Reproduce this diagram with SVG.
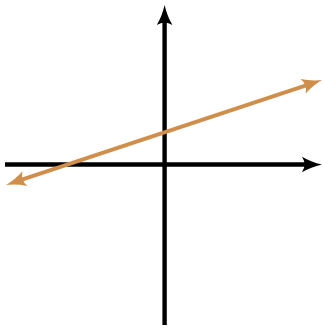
<svg xmlns="http://www.w3.org/2000/svg" width="323" height="329" viewBox="0 0 323 329">
<style>
.axis{stroke:#000;stroke-width:4.4;fill:none}
.fn{stroke:#cf8f4b;stroke-width:4;fill:none}
</style>
<defs>
<marker id="ak" markerUnits="userSpaceOnUse" markerWidth="24" markerHeight="20" viewBox="0 -10 22 20" refX="8" refY="0" orient="auto-start-reverse" overflow="visible">
<path d="M20,0 Q9,-2.5 0,-7.8 Q5,0 0,7.8 Q9,2.5 20,0 Z" fill="#000"/>
</marker>
<marker id="ao" markerUnits="userSpaceOnUse" markerWidth="24" markerHeight="20" viewBox="0 -10 22 20" refX="8" refY="0" orient="auto-start-reverse" overflow="visible">
<path d="M20,0 Q9,-2.5 0,-7.8 Q5,0 0,7.8 Q9,2.5 20,0 Z" fill="#cf8f4b"/>
</marker>
</defs>
<g id="connectors">
<line id="x-axis" class="axis" x1="5" y1="164.5" x2="310" y2="164.5" marker-end="url(#ak)"/>
<line id="y-axis" class="axis" x1="164.6" y1="325" x2="164.6" y2="17" marker-end="url(#ak)"/>
<line id="line" class="fn" x1="17.4" y1="181.2" x2="310.6" y2="83.8" marker-start="url(#ao)" marker-end="url(#ao)"/>
</g>
</svg>
